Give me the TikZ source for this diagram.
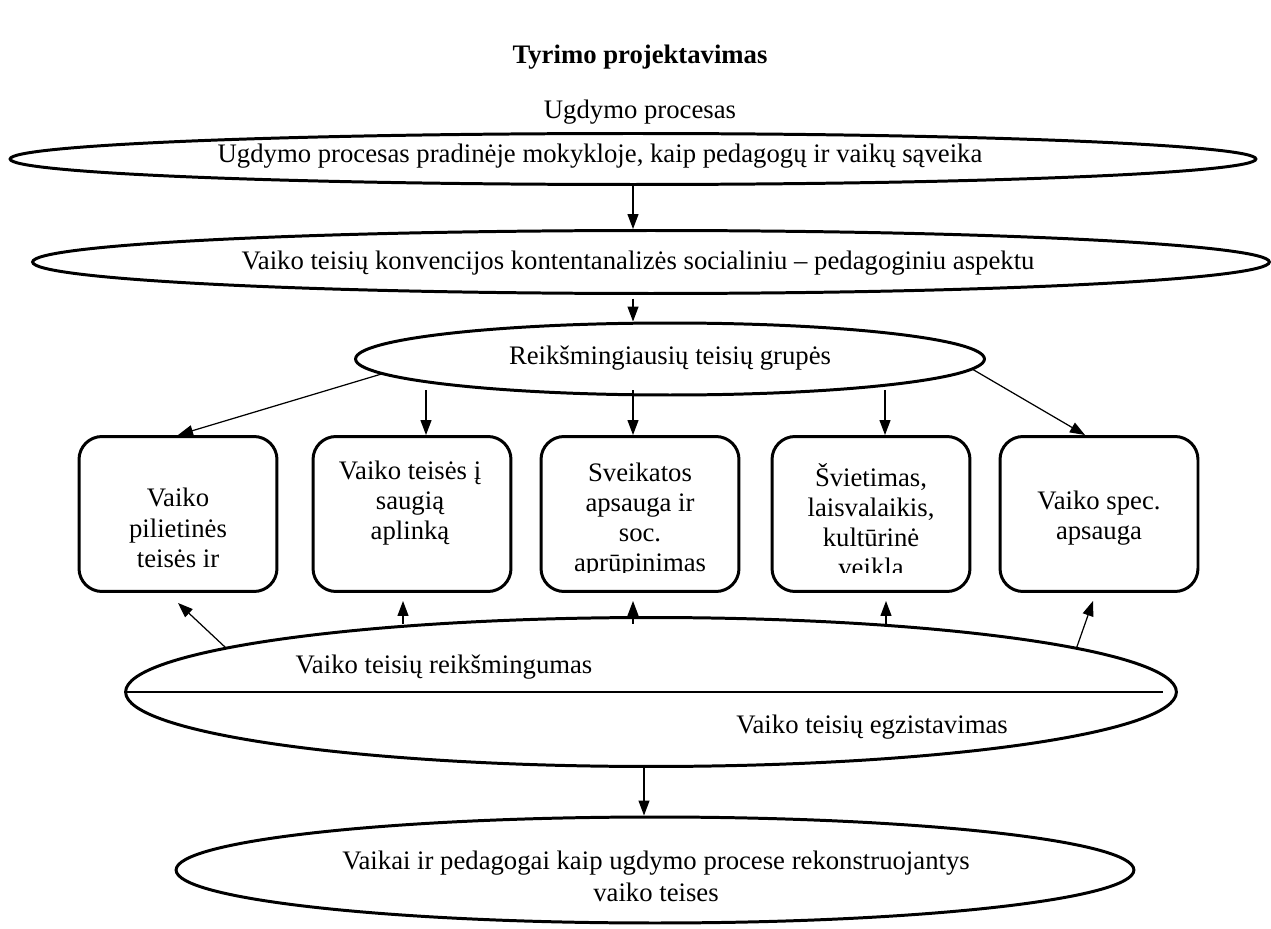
\documentclass[tikz,border=0pt]{standalone}
\usepackage{fontspec}
\setmainfont{Liberation Serif}
\usetikzlibrary{shapes.geometric,arrows.meta}
\begin{document}
\begin{tikzpicture}[x=0.02cm,y=-0.02cm,
    font=\fontsize{15.2}{17.2}\selectfont,
    oval/.style={draw,ellipse,line width=1.7pt,inner sep=0pt},
    grp/.style={draw,rounded corners=0.46cm,line width=1.7pt,minimum width=3.96cm,minimum height=3.1cm},
    lbl/.style={align=center},
    arr/.style={-{Triangle[length=0.3cm,width=0.22cm]},line width=0.7pt}]
  \useasboundingbox (0,0) rectangle (1271,929);
  \node[font=\fontsize{15.2}{17.2}\selectfont\bfseries] (title) at (640,57) {Tyrimo projektavimas};
  \node (hdr) at (640,112) {Ugdymo procesas};
  \node[oval,minimum width=24.92cm,minimum height=1.02cm] (procE) at (633,159) {};
  \node (procT) at (600,156) {Ugdymo procesas pradinėje mokykloje, kaip pedagogų ir vaikų sąveika};
  \node[oval,minimum width=24.74cm,minimum height=1.26cm] (convE) at (651,262) {};
  \node (convT) at (638,263) {Vaiko teisių konvencijos kontentanalizės socialiniu – pedagoginiu aspektu};
  \node[oval,minimum width=12.58cm,minimum height=1.44cm] (grpE) at (670,359) {};
  \node (grpT) at (670,358) {Reikšmingiausių teisių grupės};
  \node[grp] (b1) at (178,514) {};
  \node[grp] (b2) at (412,514) {};
  \node[grp] (b3) at (640,514) {};
  \node[grp] (b4) at (871,514) {};
  \node[grp] (b5) at (1099,514) {};
  \node[lbl] (b1T) at (178,528) {Vaiko\\pilietinės\\teisės ir};
  \node[lbl] (b2T) at (410,503) {Vaiko teisės į\\saugią\\aplinką};
  \begin{scope}
    \clip (b3.north west) rectangle ([yshift=0.4cm]b4.south east);
    \node[lbl] (b3T) at (640,520) {Sveikatos\\apsauga ir\\soc.\\aprūpinimas};
    \node[lbl] (b4T) at (871,520) {Švietimas,\\laisvalaikis,\\kultūrinė\\veikla};
  \end{scope}
  \node[lbl] (b5T) at (1099,518) {Vaiko spec.\\apsauga};
  \node[oval,minimum width=21.02cm,minimum height=2.98cm] (rightsE) at (651,692) {};
  \draw[line width=1.5pt] (rightsE.west) -- ([xshift=-0.3cm]rightsE.east);
  \node (rsT1) at (444,667) {Vaiko teisių reikšmingumas};
  \node (rsT2) at (872,727) {Vaiko teisių egzistavimas};
  \node[oval,minimum width=19.16cm,minimum height=2.12cm] (finalE) at (655,870) {};
  \node[lbl,font=\fontsize{15.2}{18.2}\selectfont] (finalT) at (656,876) {Vaikai ir pedagogai kaip ugdymo procese rekonstruojantys\\vaiko teises};
  \draw[arr] (procE.south) -- (procE.south |- convE.north);
  \draw[arr] ([xshift=-0.74cm,yshift=0.46cm]grpE.north) -- ([xshift=-0.74cm]grpE.north);
  \draw[arr] (grpE.183) -- (b1.north);
  \draw[arr] ([xshift=0.28cm,yshift=0.9cm]b2.north) -- ([xshift=0.28cm]b2.north);
  \draw[arr] ([xshift=-0.14cm,yshift=0.9cm]b3.north) -- ([xshift=-0.14cm]b3.north);
  \draw[arr] ([xshift=0.28cm,yshift=0.9cm]b4.north) -- ([xshift=0.28cm]b4.north);
  \draw[arr] (grpE.-2) -- ([xshift=-0.28cm]b5.north);
  \draw[arr] (rightsE.174) -- ([yshift=-0.2cm]b1.south);
  \draw[arr] ([xshift=-0.18cm,yshift=-0.62cm]b2.south) -- ([xshift=-0.18cm,yshift=-0.16cm]b2.south);
  \draw[arr] ([xshift=-0.14cm,yshift=-0.62cm]b3.south) -- ([xshift=-0.14cm,yshift=-0.16cm]b3.south);
  \draw[arr] ([xshift=0.3cm,yshift=-0.62cm]b4.south) -- ([xshift=0.3cm,yshift=-0.16cm]b4.south);
  \draw[arr] (rightsE.6) -- ([xshift=-0.12cm,yshift=-0.16cm]b5.south);
  \draw[arr] ([xshift=-0.14cm]rightsE.south) -- ([xshift=-0.14cm]rightsE.south |- finalE.north);
\end{tikzpicture}
\end{document}
